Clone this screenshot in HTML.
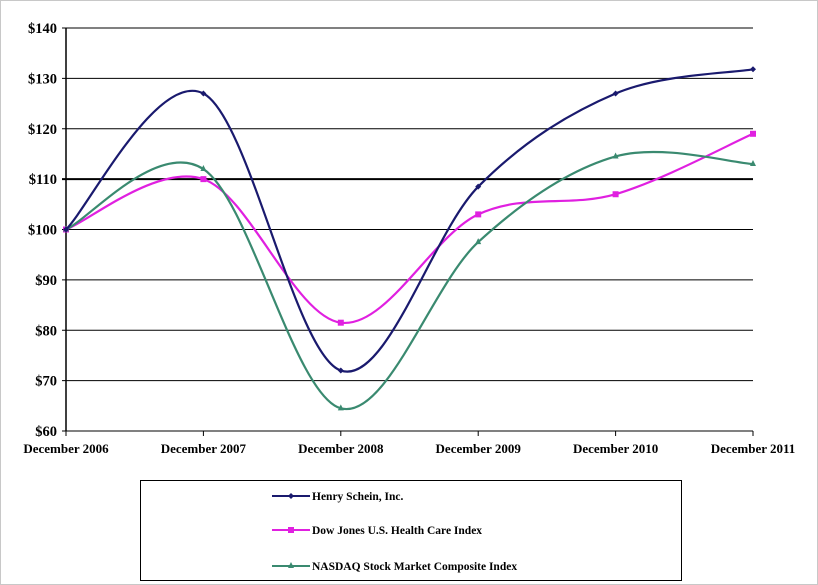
<!DOCTYPE html>
<html><head><meta charset="utf-8"><style>
html,body{margin:0;padding:0;background:#fff;}
svg{display:block;font-family:"Liberation Serif",serif;font-weight:bold;}
</style></head><body>
<svg id="chart" width="818" height="585">
<rect x="0.5" y="0.5" width="817" height="584" fill="#fff" stroke="#c8c8c8"/>
<g id="grid"></g><g id="axes"></g><g id="series"></g>
<g>
<rect x="140.5" y="480.5" width="541" height="100" fill="#fff" stroke="#000"/>
<g>
<line x1="272" y1="496" x2="310" y2="496" stroke="#1a1a6e" stroke-width="2"/>
<path d="M291 493 L294 496 L291 499 L288 496Z" fill="#1a1a6e"/>
<text x="312" y="500" font-size="11.5">Henry Schein, Inc.</text></g>
<g>
<line x1="272" y1="530" x2="310" y2="530" stroke="#e020e0" stroke-width="2"/>
<rect x="288" y="527" width="6" height="6" fill="#e020e0"/>
<text x="312" y="534" font-size="11.5">Dow Jones U.S. Health Care Index</text></g>
<g>
<line x1="272" y1="566" x2="310" y2="566" stroke="#3a8a70" stroke-width="2"/>
<path d="M291 562 L294 568 L288 568Z" fill="#3a8a70"/>
<text x="312" y="570" font-size="11.5">NASDAQ Stock Market Composite Index</text></g>
</g>
</svg>
<script>
const categories=["December 2006","December 2007","December 2008","December 2009","December 2010","December 2011"];
const henry=[100,127,72,108.5,127,131.8];
const dowJones=[100,110,81.5,103,107,119];
const nasdaq=[100,112,64.5,97.5,114.5,113];
const yTicks=[60,70,80,90,100,110,120,130,140];
const yLabels=["$60","$70","$80","$90","$100","$110","$120","$130","$140"];
const NS="http://www.w3.org/2000/svg";
const x0=66,x1=753,yTop=28,yBot=431,yMin=60,yMax=140;
function xs(i){return x0+i*(x1-x0)/(categories.length-1);}
function ys(v){return yBot-(v-yMin)/(yMax-yMin)*(yBot-yTop);}
function mk(t,a,p){const e=document.createElementNS(NS,t);for(const k in a)e.setAttribute(k,a[k]);p.appendChild(e);return e;}
const grid=document.getElementById('grid'),axes=document.getElementById('axes'),ser=document.getElementById('series');
yTicks.forEach((v,i)=>{
 const l=mk('line',{x1:x0-4,x2:x1,y1:ys(v),y2:ys(v),stroke:'#000','stroke-width':v===110?2:1},grid);
 
 
 const t=mk('text',{x:x0-9,y:ys(v)+5,'text-anchor':'end','font-size':14.5},axes);
 t.textContent=yLabels[i];
 
 
});
const ya=mk('line',{x1:x0,x2:x0,y1:yTop,y2:yBot,stroke:'#000','stroke-width':1.5},axes);


categories.forEach((c,i)=>{
 mk('line',{x1:xs(i),x2:xs(i),y1:yBot,y2:yBot+5,stroke:'#000'},axes);
 const t=mk('text',{x:xs(i),y:yBot+22,'text-anchor':'middle','font-size':13},axes);
 t.textContent=c;
 
 
});
function curve(vals){
 const p=vals.map((v,i)=>[xs(i),ys(v)]);let d=`M${p[0][0]},${p[0][1]}`;
 for(let i=0;i<p.length-1;i++){
  const a=p[i-1]||p[i],b=p[i],c=p[i+1],e=p[i+2]||c;
  d+=` C${b[0]+(c[0]-a[0])/6},${b[1]+(c[1]-a[1])/6} ${c[0]-(e[0]-b[0])/6},${c[1]-(e[1]-b[1])/6} ${c[0]},${c[1]}`;
 }return d;}
function series(vals,color,name,shape){
 const g=mk('g',{},ser);
 
 
 mk('path',{d:curve(vals),fill:'none',stroke:color,'stroke-width':2.2},g);
 vals.forEach((v,i)=>{const x=xs(i),y=ys(v);
  if(shape==='d')mk('path',{d:`M${x} ${y-3}L${x+3} ${y}L${x} ${y+3}L${x-3} ${y}Z`,fill:color},g);
  else if(shape==='s')mk('rect',{x:x-3,y:y-3,width:6,height:6,fill:color},g);
  else mk('path',{d:`M${x} ${y-4}L${x+3} ${y+2}L${x-3} ${y+2}Z`,fill:color},g);});
}
series(dowJones,'#e020e0','series-dow-jones','s');
series(nasdaq,'#3a8a70','series-nasdaq','t');
series(henry,'#1a1a6e','series-henry-schein','d');
</script>
</body></html>
